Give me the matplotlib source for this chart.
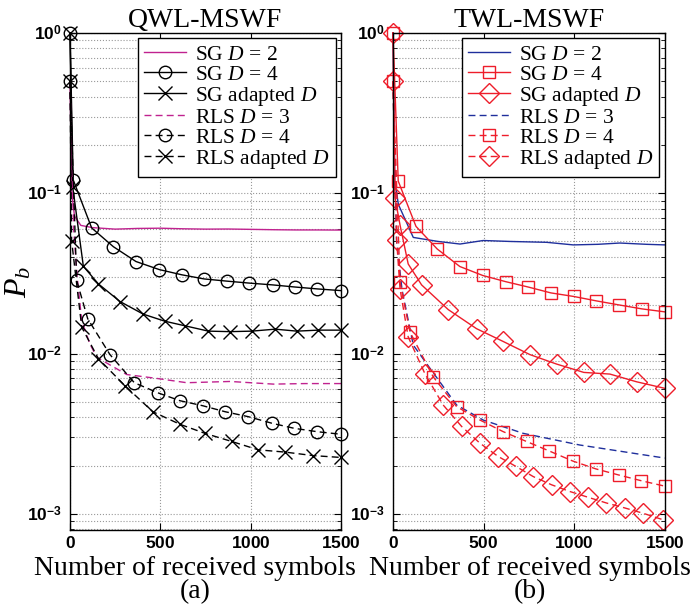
import matplotlib
matplotlib.use("Agg")
import matplotlib.pyplot as plt
from matplotlib.ticker import LogLocator, NullFormatter, FixedLocator

plt.rcParams["font.family"] = ["Liberation Serif", "DejaVu Serif"]
plt.rcParams["mathtext.fontset"] = "custom"
plt.rcParams["mathtext.rm"] = "Liberation Sans:bold"
plt.rcParams["mathtext.bf"] = "Liberation Sans:bold"
plt.rcParams["mathtext.it"] = "Liberation Serif:italic"

MAGENTA = "#c0228f"
BLUE = "#1f2f9c"
RED = "#ee1d2a"

# ---- panel (a): QWL-MSWF ----
a_sg2_x = [0, 10, 25, 60, 125, 250, 375, 500, 625, 750, 875, 1000, 1125, 1250, 1375, 1500]
a_sg2_y = [0.5, 0.1, 0.072, 0.063, 0.061, 0.0597, 0.0603, 0.0605, 0.0600, 0.0597,
           0.0598, 0.0595, 0.0592, 0.0590, 0.0590, 0.0589]

a_sg4_x = [0, 18, 120, 240, 365, 494, 618, 742, 867, 993, 1122, 1245, 1369, 1498]
a_sg4_y = [1.0, 0.121, 0.0607, 0.0464, 0.0375, 0.0334, 0.031, 0.0292, 0.0283,
           0.0275, 0.0268, 0.026, 0.0253, 0.0247]

a_sgad_x = [0, 15, 74, 157, 277, 406, 526, 636, 766, 886, 1006, 1135, 1255, 1374, 1500]
a_sgad_y = [1.0, 0.11, 0.035, 0.0272, 0.0211, 0.0176, 0.0159, 0.0149, 0.0138,
            0.0137, 0.0138, 0.0142, 0.0138, 0.014, 0.014]

a_rls3_x = [0, 20, 40, 65, 110, 148, 221, 314, 480, 646, 886, 1125, 1300, 1500]
a_rls3_y = [0.5, 0.06, 0.03, 0.016, 0.0115, 0.0095, 0.0085, 0.0074, 0.0070,
            0.00658, 0.0067, 0.00645, 0.0065, 0.0065]

a_rls4_x = [0, 37, 98, 221, 356, 485, 609, 734, 858, 987, 1116, 1240, 1365, 1498]
a_rls4_y = [0.5, 0.0286, 0.0165, 0.00986, 0.00658, 0.0057, 0.00508, 0.00473,
            0.00434, 0.00404, 0.00368, 0.00342, 0.00326, 0.00314]

a_rlsad_x = [0, 9, 65, 157, 304, 458, 609, 747, 895, 1042, 1190, 1347, 1500]
a_rlsad_y = [0.5, 0.0506, 0.0146, 0.0093, 0.0063, 0.00434, 0.00362, 0.00318,
             0.00283, 0.00251, 0.00243, 0.00231, 0.00225]

# ---- panel (b): TWL-MSWF ----
b_sg2_x = [0, 10, 30, 112, 250, 370, 498, 650, 848, 995, 1130, 1252, 1400, 1500]
b_sg2_y = [1.0, 0.12, 0.085, 0.053, 0.050, 0.0482, 0.0507, 0.050, 0.0494, 0.0476,
           0.048, 0.0489, 0.048, 0.0476]

b_sg4_x = [0, 29, 127, 244, 369, 495, 621, 746, 871, 998, 1123, 1248, 1373, 1500]
b_sg4_y = [1.0, 0.119, 0.0621, 0.0449, 0.0349, 0.0307, 0.0281, 0.026, 0.0239,
           0.0227, 0.0213, 0.0201, 0.019, 0.0182]

b_sgad_x = [0, 11, 39, 84, 158, 305, 461, 608, 755, 903, 1053, 1197, 1344, 1500]
b_sgad_y = [1.0, 0.094, 0.0633, 0.0362, 0.0268, 0.0188, 0.0143, 0.0119, 0.00986,
            0.0086, 0.00763, 0.00745, 0.00667, 0.00607]

b_rls3_x = [0, 20, 50, 112, 204, 351, 498, 719, 1031, 1500]
b_rls3_y = [0.5, 0.05, 0.025, 0.0113, 0.0081, 0.00478, 0.00385, 0.00318, 0.00269, 0.00223]

b_rls4_x = [0, 39, 94, 222, 351, 480, 608, 737, 862, 991, 1119, 1245, 1371, 1500]
b_rls4_y = [0.5, 0.0279, 0.0136, 0.00716, 0.00467, 0.00385, 0.00326, 0.00283,
            0.00247, 0.00214, 0.00191, 0.00175, 0.00161, 0.00149]

b_rlsad_x = [0, 20, 39, 84, 176, 277, 379, 480, 581, 678, 774, 875, 976, 1077,
             1178, 1279, 1380, 1490]
b_rlsad_y = [0.5, 0.0513, 0.0253, 0.0127, 0.0075, 0.00478, 0.00351, 0.00276,
             0.00228, 0.00198, 0.00171, 0.00152, 0.00138, 0.00127, 0.00117,
             0.00109, 0.00101, 0.00092]

labels = [r"SG $D$ = 2", r"SG $D$ = 4", r"SG adapted $D$",
          r"RLS $D$ = 3", r"RLS $D$ = 4", r"RLS adapted $D$"]

fig = plt.figure(figsize=(6.97, 6.07), dpi=100)
ax1 = fig.add_axes([0.1004, 0.1269, 0.389, 0.819])
ax2 = fig.add_axes([0.5638, 0.1269, 0.390, 0.819])

DASH = (0, (5, 3))


def style(ax, title, sub, label_x):
    ax.set_yscale("log")
    ax.set_xlim(0, 1500)
    ax.set_ylim(10 ** -3.1, 1)
    ax.xaxis.set_major_locator(FixedLocator([0, 500, 1000, 1500]))
    ax.set_xticklabels([r"$0$", r"$500$", r"$1000$", r"$1500$"])
    ax.yaxis.set_major_locator(FixedLocator([1e-3, 1e-2, 1e-1, 1]))
    ax.set_yticklabels([r"$10^{-3}$", r"$10^{-2}$", r"$10^{-1}$", r"$10^{0}$"])
    ax.yaxis.set_minor_locator(LogLocator(base=10, subs=range(2, 10)))
    ax.yaxis.set_minor_formatter(NullFormatter())
    ax.tick_params(which="both", direction="in", top=True, right=True)
    ax.tick_params(which="major", length=5, labelsize=12.5)
    ax.tick_params(axis="y", which="major", pad=6)
    ax.tick_params(axis="x", which="major", pad=4)
    ax.tick_params(which="minor", length=3)
    ax.grid(True, which="major", linestyle=":", color="#999999", linewidth=0.8)
    ax.grid(True, which="minor", axis="y", linestyle=":", color="#999999", linewidth=0.8)
    for s in ax.spines.values():
        s.set_linewidth(1.0)
    ax.set_title(title, fontsize=20, pad=3)
    ax.set_xlabel("Number of received symbols\n" + sub, fontsize=20, linespacing=0.92)
    ax.xaxis.set_label_coords(label_x, -0.052, transform=ax.transAxes)
    ax.xaxis.label.set_verticalalignment("top")
    leg = ax.legend(loc="upper right", fontsize=15.5, frameon=True, fancybox=False,
                    edgecolor="black", framealpha=1, borderaxespad=0.25,
                    labelspacing=0.0, handlelength=1.95, handletextpad=0.4,
                    borderpad=0.3)
    leg.get_frame().set_linewidth(1.0)


ms = 9
kw = dict(lw=1.0, clip_on=False)
ax1.plot(a_sg2_x, a_sg2_y, color=MAGENTA, label=labels[0], **kw)
ax1.plot(a_sg4_x, a_sg4_y, color="black", marker="o", ms=ms, mfc="none", label=labels[1], **kw)
ax1.plot(a_sgad_x, a_sgad_y, color="black", marker="x", ms=ms + 1, label=labels[2], **kw)
ax1.plot(a_rls3_x, a_rls3_y, color=MAGENTA, linestyle=DASH, label=labels[3], **kw)
ax1.plot(a_rls4_x, a_rls4_y, color="black", linestyle=DASH, marker="o", ms=ms, mfc="none", label=labels[4], **kw)
ax1.plot(a_rlsad_x, a_rlsad_y, color="black", linestyle=DASH, marker="x", ms=ms + 1, label=labels[5], **kw)
ax1.set_ylabel(r"$P_b$", fontsize=23)
ax1.yaxis.set_label_coords(-0.135, 0.5, transform=ax1.transAxes)
style(ax1, "QWL-MSWF", "(a)", 0.462)

ax2.plot(b_sg2_x, b_sg2_y, color=BLUE, label=labels[0], **kw)
ax2.plot(b_sg4_x, b_sg4_y, color=RED, marker="s", ms=ms, mfc="none", label=labels[1], **kw)
ax2.plot(b_sgad_x, b_sgad_y, color=RED, marker="D", ms=ms + 1, mfc="none", label=labels[2], **kw)
ax2.plot(b_rls3_x, b_rls3_y, color=BLUE, linestyle=DASH, label=labels[3], **kw)
ax2.plot(b_rls4_x, b_rls4_y, color=RED, linestyle=DASH, marker="s", ms=ms, mfc="none", label=labels[4], **kw)
ax2.plot(b_rlsad_x, b_rlsad_y, color=RED, linestyle=DASH, marker="D", ms=ms + 1, mfc="none", label=labels[5], **kw)
style(ax2, "TWL-MSWF", "(b)", 0.505)

fig.savefig("out.png", dpi=100)
